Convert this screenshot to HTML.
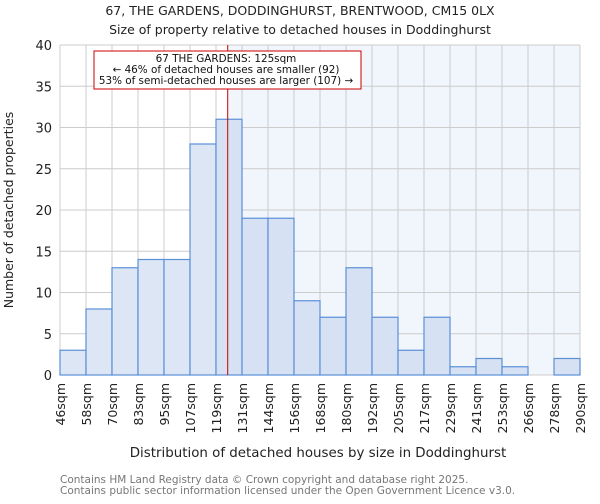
<!DOCTYPE html>
<html><head><meta charset="utf-8"><style>
body{margin:0;background:#fff;font-family:"DejaVu Sans","Liberation Sans",sans-serif;}
</style></head><body>
<svg width="600" height="500" xmlns="http://www.w3.org/2000/svg" font-family="DejaVu Sans, Liberation Sans, sans-serif">
<text x="300" y="15" text-anchor="middle" font-size="12.5" fill="#222">67, THE GARDENS, DODDINGHURST, BRENTWOOD, CM15 0LX</text>
<text x="300" y="34" text-anchor="middle" font-size="12.5" fill="#222">Size of property relative to detached houses in Doddinghurst</text>
<g id="plot"></g>
<text x="318" y="457" text-anchor="middle" font-size="13.4" fill="#222">Distribution of detached houses by size in Doddinghurst</text>
<text transform="translate(13,210) rotate(-90)" text-anchor="middle" font-size="12.5" fill="#222">Number of detached properties</text>
<text x="60" y="483" font-size="10.5" fill="#777">Contains HM Land Registry data © Crown copyright and database right 2025.</text>
<text x="60" y="494" font-size="10.5" fill="#777">Contains public sector information licensed under the Open Government Licence v3.0.</text>
</svg>
<script>
const categories=["46sqm","58sqm","70sqm","83sqm","95sqm","107sqm","119sqm","131sqm","144sqm","156sqm","168sqm","180sqm","192sqm","205sqm","217sqm","229sqm","241sqm","253sqm","266sqm","278sqm","290sqm"];
const counts=[3,8,13,14,14,28,31,19,19,9,7,13,7,3,7,1,2,1,0,2];
const yTicks=[0,5,10,15,20,25,30,35,40];
const propertyBinPos=6.45;
const NS="http://www.w3.org/2000/svg";
const L=60,R=580,T=45,B=375,n=counts.length,bw=(R-L)/n;
const xS=i=>L+i*bw, yS=v=>B-(v/40)*(B-T);
const g=document.getElementById('plot');
function mk(t,a){const e=document.createElementNS(NS,t);for(const k in a)e.setAttribute(k,a[k]);g.appendChild(e);return e;}
const px=xS(propertyBinPos);
let e=mk('rect',{x:L,y:T,width:R-L,height:B-T,fill:'#fff'});


e=mk('rect',{x:px,y:T,width:R-px,height:B-T,fill:'#f1f5fc'});


for(let i=0;i<=n;i++){e=mk('line',{x1:xS(i),x2:xS(i),y1:T,y2:B,stroke:'#cccccc'});

}
yTicks.forEach(v=>{e=mk('line',{x1:L,x2:R,y1:yS(v),y2:yS(v),stroke:'#cccccc'});


const t=mk('text',{x:L-8,y:yS(v)+5,'text-anchor':'end','font-size':'13',fill:'#222'});t.textContent=v;

});
counts.forEach((c,i)=>{if(c<=0)return;const b=mk('rect',{x:xS(i),y:yS(c),width:bw,height:B-yS(c),fill:(xS(i)+bw/2<px)?'#dde6f4':'#d6e1f3',stroke:'#5b8fd8','stroke-width':1.2});

});
categories.forEach((c,i)=>{const t=mk('text',{transform:`translate(${xS(i)+5},${B+8}) rotate(-90)`,'text-anchor':'end','font-size':'12.5',fill:'#222'});t.textContent=c;

});
e=mk('line',{x1:px,x2:px,y1:T,y2:B,stroke:'#cc0000','stroke-width':1});


e=mk('rect',{x:94,y:51,width:267,height:38,fill:'#fff',stroke:'#cc0000','stroke-width':1});


["67 THE GARDENS: 125sqm","← 46% of detached houses are smaller (92)","53% of semi-detached houses are larger (107) →"].forEach((s,k)=>{const t=mk('text',{x:226,y:62+k*11,'text-anchor':'middle','font-size':'10.4',fill:'#111'});t.textContent=s;

});
</script>
</body></html>
